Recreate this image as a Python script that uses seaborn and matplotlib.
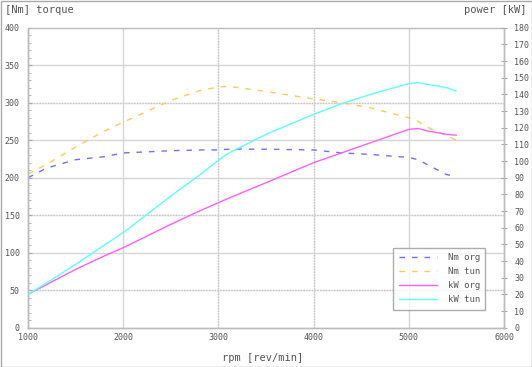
import matplotlib
matplotlib.use("Agg")
import matplotlib.pyplot as plt
import seaborn as sns
import pandas as pd
import numpy as np
from matplotlib.ticker import MultipleLocator
from matplotlib.lines import Line2D

sns.set_style("white")
plt.rcParams['font.family'] = ['DejaVu Sans Mono', 'DejaVu Sans']

rpm = [1000, 1200, 1500, 1800, 2000, 2500, 2800, 3000, 3100, 3500, 4000, 4300, 4600, 5000, 5100, 5200, 5400, 5500]
nm_org = [200, 213, 224, 228, 233, 236, 237, 237, 238, 238, 237, 233, 231, 227, 224, 217, 204, 202]
nm_tun = [205, 218, 241, 262, 274, 303, 316, 321, 322, 315, 305, 300, 293, 280, 275, 267, 256, 250]
kw_org = [20, 26, 35, 43, 48, 62, 70, 75, 77.5, 87, 99, 105, 111, 119, 119.5, 118, 116, 115.5]
kw_tun = [20, 27, 38, 49.5, 57, 79, 91.5, 100.5, 104.5, 116, 128, 134.5, 140, 146.5, 147, 146, 144, 142]

labels = ["Nm org", "Nm tun", "kW org", "kW tun"]
colors = ["#7070ff", "#ffc860", "#ff60ff", "#60ffff"]

df = pd.DataFrame({"rpm": rpm, "nm_org": nm_org, "nm_tun": nm_tun,
                   "kw_org": kw_org, "kw_tun": kw_tun})

fig = plt.figure(figsize=(5.32, 3.67), dpi=100)
ax = fig.add_axes([28/532, 1-327.7/367, 476/532, 300/367])
ax2 = ax.twinx()

grid_solid = "#d6d6d6"
for x in [2000, 5000]:
    ax.axvline(x, color=grid_solid, lw=1, zorder=0)
for x in [3000, 4000]:
    ax.axvline(x, color="#e8e8e8", lw=1, zorder=0)
    ax.axvline(x, color="#c6c6c6", lw=1, ls=(0, (1, 1)), zorder=0)
for y in [100, 200, 250, 350]:
    ax.axhline(y, color=grid_solid, lw=1, zorder=0)
for y in [50, 150, 300]:
    ax.axhline(y, color="#e8e8e8", lw=1, zorder=0)
    ax.axhline(y, color="#c6c6c6", lw=1, ls=(0, (1, 1)), zorder=0)

sns.lineplot(data=df, x="rpm", y="nm_org", ax=ax, color=colors[0], lw=1, zorder=3)
sns.lineplot(data=df, x="rpm", y="nm_tun", ax=ax, color=colors[1], lw=1, zorder=3)
for l in ax.get_lines()[-2:]:
    l.set_dashes([4, 5])
sns.lineplot(data=df, x="rpm", y="kw_org", ax=ax2, color=colors[2], lw=1, zorder=3)
sns.lineplot(data=df, x="rpm", y="kw_tun", ax=ax2, color=colors[3], lw=1, zorder=3)

ax.set_xlim(1000, 6000)
ax.set_ylim(0, 400)
ax2.set_ylim(0, 180)
ax.set_xlabel("")
ax.set_ylabel("")
ax2.set_ylabel("")

txt = "#555555"
ax.xaxis.set_major_locator(MultipleLocator(1000))
ax.xaxis.set_minor_locator(MultipleLocator(200))
ax.yaxis.set_major_locator(MultipleLocator(50))
ax.yaxis.set_minor_locator(MultipleLocator(10))
ax2.yaxis.set_major_locator(MultipleLocator(10))

ax.tick_params(axis="x", which="major", direction="in", length=3, color="#aaaaaa",
               labelsize=6, labelcolor=txt, pad=4)
ax.tick_params(axis="x", which="minor", direction="in", length=2, color="#aaaaaa")
ax.tick_params(axis="y", which="major", direction="in", length=3, color="#aaaaaa",
               labelsize=6, labelcolor=txt, pad=6)
ax.tick_params(axis="y", which="minor", direction="in", length=2, color="#aaaaaa")
ax2.tick_params(axis="y", which="major", direction="inout", length=5, color="#aaaaaa",
                labelsize=6, labelcolor=txt, pad=5)

for a in (ax, ax2):
    for s in a.spines.values():
        s.set_color("#bbbbbb")
        s.set_linestyle((0, (1, 1)))
        s.set_linewidth(1)
ax2.spines["top"].set_visible(False)

handles = [Line2D([0], [0], color=colors[0], lw=1, dashes=[4, 5]),
           Line2D([0], [0], color=colors[1], lw=1, dashes=[4, 5]),
           Line2D([0], [0], color=colors[2], lw=1),
           Line2D([0], [0], color=colors[3], lw=1)]
leg = ax2.legend(handles, labels, loc="lower right", bbox_to_anchor=(0.97, 0.045),
                 fontsize=6.5, frameon=True, fancybox=False, handlelength=4.2,
                 handletextpad=1.2, borderpad=0.6, labelspacing=0.55)
leg.get_frame().set_edgecolor("#999999")
leg.get_frame().set_linewidth(1)
for t in leg.get_texts():
    t.set_color(txt)

fig.text(5/532, 1-10/367, "[Nm] torque", fontsize=7.5, color=txt, va="center", ha="left")
fig.text(527/532, 1-10/367, "power [kW]", fontsize=7.5, color=txt, va="center", ha="right")
fig.text(263/532, 1-358/367, "rpm [rev/min]", fontsize=7.5, color=txt, va="center", ha="center")

fig.patches.append(plt.Rectangle((0.5/532, 0.5/367), 1-1/532, 1-1/367, transform=fig.transFigure,
                                 fill=False, edgecolor="#aaaaaa", lw=1))

fig.savefig("out.png", dpi=100)
